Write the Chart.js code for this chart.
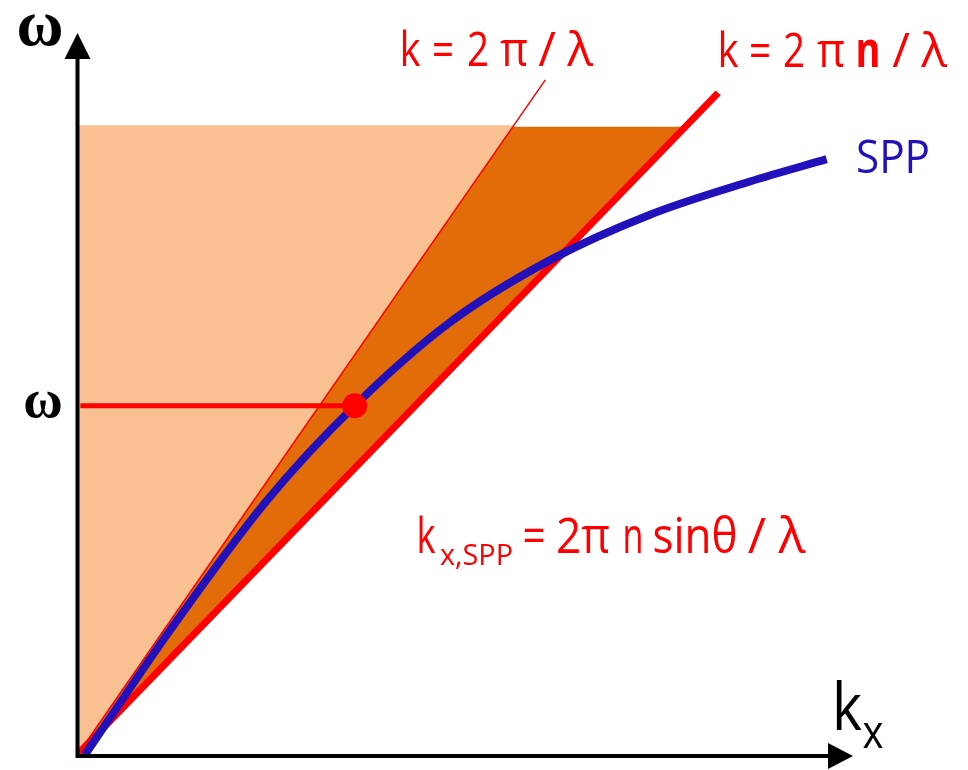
<!DOCTYPE html>
<html>
<head>
<meta charset="utf-8">
<script src="https://cdn.jsdelivr.net/npm/chart.js@4"></script>
<style>
  html, body { margin: 0; padding: 0; background: #fff; }
  #wrap { width: 968px; height: 770px; }
</style>
</head>
<body>
<div id="wrap"><canvas id="dispersion" width="968" height="770"></canvas></div>
<script>
// light line in vacuum, k = 2*pi/lambda
const lightK = [0, 6.03];
const lightW = [0, 9.35];
// light line in the prism, k = 2*pi*n/lambda
const prismK = [0, 8.26];
const prismW = [0, 9.17];
// SPP dispersion curve
const sppK = [0.09, 1.19, 2.44, 3.57, 4.79, 6.09, 7.38, 8.67, 9.66];
const sppW = [-0.01, 1.72, 3.52, 4.83, 5.98, 6.85, 7.48, 7.94, 8.25];
// coupling point
const markK = 3.57;
const markW = 4.83;
// top edge of the shaded regions
const coneTop = 8.72;
const prismTop = 8.70;

const red = '#ff0000';
const blue = '#2211bb';

function pts(ks, ws) {
  return ks.map((k, i) => ({ x: k, y: ws[i] }));
}
// k where a line through the origin reaches height w
function kAt(ks, ws, w) {
  return ks[1] * w / ws[1];
}

const lightCone = [
  { x: 0, y: 0 },
  { x: 0, y: coneTop },
  { x: kAt(lightK, lightW, coneTop), y: coneTop },
  { x: 0, y: 0 }
];
const prismBand = [
  { x: 0, y: 0 },
  { x: kAt(lightK, lightW, prismTop), y: prismTop },
  { x: kAt(prismK, prismW, prismTop), y: prismTop },
  { x: 0, y: 0 }
];

function label(ctx, text, cx, y, font, color, maxW, align) {
  ctx.font = font;
  ctx.fillStyle = color;
  ctx.textAlign = align || 'center';
  ctx.textBaseline = 'alphabetic';
  ctx.fillText(text, cx, y, maxW);
}

const annotations = {
  id: 'annotations',
  afterDraw(chart) {
    const ctx = chart.ctx;
    const xs = chart.scales.x, ys = chart.scales.y;
    const x0 = xs.getPixelForValue(0) - 0.5;
    const y0 = ys.getPixelForValue(0) + 2;
    ctx.save();

    // axes with arrow heads
    ctx.strokeStyle = '#000';
    ctx.fillStyle = '#000';
    ctx.lineWidth = 4;
    ctx.beginPath();
    ctx.moveTo(x0, y0 + 2);
    ctx.lineTo(x0, 58);
    ctx.moveTo(x0 - 2, y0);
    ctx.lineTo(830, y0);
    ctx.stroke();
    ctx.beginPath();
    ctx.moveTo(x0, 33);
    ctx.lineTo(x0 + 13, 59);
    ctx.lineTo(x0 - 13, 59);
    ctx.closePath();
    ctx.fill();
    ctx.beginPath();
    ctx.moveTo(853, y0);
    ctx.lineTo(828, y0 - 13);
    ctx.lineTo(828, y0 + 13);
    ctx.closePath();
    ctx.fill();

    const sans = '"Open Sans", "Liberation Sans", sans-serif';
    const serif = '"Liberation Serif", "DejaVu Serif", serif';

    // axis names
    label(ctx, 'ω', 40, 45, 'bold 66px ' + serif, '#000', 47);
    label(ctx, 'ω', 43, 417, 'bold 54px ' + serif, '#000', 40);
    label(ctx, 'k', 847, 730, '66px ' + sans, '#000', 30);
    label(ctx, 'x', 873, 748, '46px ' + sans, '#000', 21);

    // k = 2π/λ
    const f48 = '48px ' + sans;
    label(ctx, 'k', 410, 66, f48, red, 21);
    label(ctx, '=', 443, 66, f48, red, 22);
    label(ctx, '2', 478, 66, f48, red, 22);
    label(ctx, 'π', 514, 66, f48, red, 28);
    label(ctx, '/', 547, 66, f48, red, 20);
    label(ctx, 'λ', 580, 66, f48, red, 28);

    // k = 2πn/λ
    label(ctx, 'k', 728, 67, f48, red, 21);
    label(ctx, '=', 760, 67, f48, red, 22);
    label(ctx, '2', 794, 67, f48, red, 22);
    label(ctx, 'π', 831, 67, f48, red, 28);
    label(ctx, 'n', 868, 67, 'bold 48px ' + sans, red, 25);
    label(ctx, '/', 901, 67, f48, red, 20);
    label(ctx, 'λ', 934, 67, f48, red, 28);

    label(ctx, 'SPP', 893, 173, '46px ' + sans, blue, 74);

    // k_x,SPP = 2π n sinθ / λ
    const f50 = '50px ' + sans;
    label(ctx, 'k', 426, 553, f50, red, 19);
    label(ctx, 'x,SPP', 440, 565, '30px ' + sans, red, 73, 'left');
    label(ctx, '=', 534, 553, f50, red, 23);
    label(ctx, '2π', 583, 553, f50, red, 54);
    label(ctx, 'n', 633, 553, f50, red, 21);
    label(ctx, 'sinθ', 695, 553, f50, red, 85);
    label(ctx, '/', 757, 553, f50, red, 20);
    label(ctx, 'λ', 792, 553, f50, red, 30);

    ctx.restore();
  }
};

new Chart(document.getElementById('dispersion'), {
  type: 'scatter',
  data: {
    datasets: [
      {
        data: [{ x: markK, y: markW }],
        pointRadius: 12.5,
        pointBackgroundColor: red,
        pointBorderWidth: 0,
        order: 0,
        clip: false
      },
      {
        data: [{ x: 0.03, y: markW }, { x: markK, y: markW }],
        showLine: true,
        borderColor: red,
        borderWidth: 5,
        pointRadius: 0,
        order: 1,
        clip: false
      },
      {
        data: pts(sppK, sppW),
        showLine: true,
        borderColor: blue,
        borderWidth: 8,
        borderCapStyle: 'butt',
        cubicInterpolationMode: 'monotone',
        pointRadius: 0,
        order: 2,
        clip: false
      },
      {
        data: pts(prismK, prismW),
        showLine: true,
        borderColor: red,
        borderWidth: 7,
        borderCapStyle: 'butt',
        pointRadius: 0,
        order: 3,
        clip: false
      },
      {
        data: pts(lightK, lightW),
        showLine: true,
        borderColor: red,
        borderWidth: 1.5,
        pointRadius: 0,
        order: 4,
        clip: false
      },
      {
        data: prismBand,
        showLine: true,
        borderWidth: 0,
        borderColor: 'rgba(0,0,0,0)',
        backgroundColor: '#e36c0a',
        fill: 'shape',
        pointRadius: 0,
        order: 5,
        clip: false
      },
      {
        data: lightCone,
        showLine: true,
        borderWidth: 0,
        borderColor: 'rgba(0,0,0,0)',
        backgroundColor: '#f9c191',
        fill: 'shape',
        pointRadius: 0,
        order: 6,
        clip: false
      }
    ]
  },
  options: {
    responsive: false,
    animation: false,
    layout: { padding: { left: 78, right: 115, top: 33, bottom: 16 } },
    plugins: { legend: { display: false }, tooltip: { enabled: false } },
    scales: {
      x: { type: 'linear', min: 0, max: 10, display: false },
      y: { type: 'linear', min: 0, max: 10, display: false }
    }
  },
  plugins: [annotations]
});
</script>
</body>
</html>
